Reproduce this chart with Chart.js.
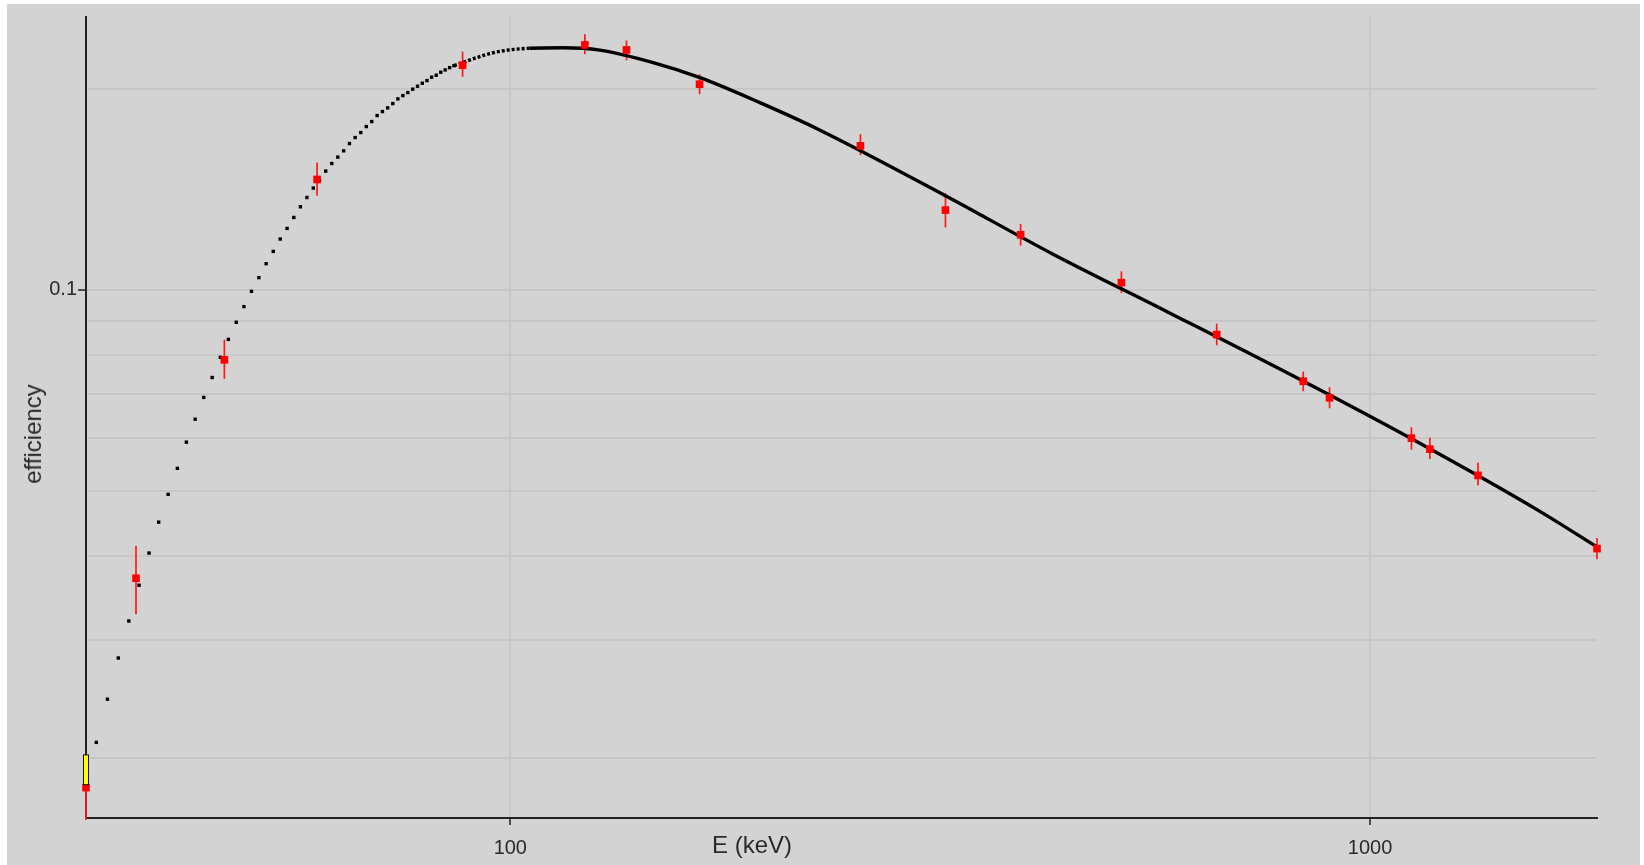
<!DOCTYPE html>
<html>
<head>
<meta charset="utf-8">
<title>efficiency</title>
<script src="https://cdn.jsdelivr.net/npm/chart.js@4.4.1/dist/chart.umd.min.js"></script>
<style>
  body { margin: 0; background: #ffffff; }
  #box { position: absolute; left: 7px; top: 4px; width: 1633px; height: 861px; background: #d3d3d3; }
  #chart { position: absolute; left: 0; top: 0; }
  .axis-title { position: absolute; font-family: "Liberation Sans", Arial, sans-serif; font-size: 24px; color: #2a2a2a; white-space: nowrap; }
  #xtitle { left: 745px; top: 841px; transform: translate(-50%, -50%); }
  #ytitle { left: 26px; top: 430px; transform: translate(-50%, -50%) rotate(-90deg); }
</style>
</head>
<body>
<div id="box">
  <canvas id="chart" width="1633" height="861"></canvas>
  <div id="xtitle" class="axis-title">E (keV)</div>
  <div id="ytitle" class="axis-title">efficiency</div>
</div>
<script>
// measured peaks (keV) and efficiencies
const energies = [32.1, 36.7, 46.5, 59.6, 88.0, 122.1, 136.5, 166.0, 255.4, 320.7, 392.2, 513.7, 663.1, 836, 897, 1117, 1173.5, 1335, 1836];
const efficiencies = [0.01804, 0.03708, 0.07862, 0.14626, 0.21669, 0.23235, 0.2284, 0.20298, 0.16418, 0.13163, 0.12093, 0.10254, 0.08576, 0.07304, 0.06899, 0.06005, 0.05782, 0.05283, 0.04107];
const errLow = [0.0159, 0.03277, 0.07364, 0.13826, 0.20815, 0.22503, 0.22044, 0.19612, 0.15904, 0.124, 0.11645, 0.09897, 0.08266, 0.07057, 0.06656, 0.0577, 0.05587, 0.05104, 0.03958];
const errHigh = [0.02019, 0.04144, 0.08428, 0.15502, 0.22706, 0.24103, 0.23587, 0.21007, 0.17092, 0.13955, 0.12546, 0.1066, 0.08906, 0.07551, 0.07155, 0.06235, 0.06011, 0.05524, 0.04259];

// fitted curve, sparse part (one dot per keV)
const fitDotE = [33, 34, 35, 36, 37, 38, 39, 40, 41, 42, 43, 44, 45, 46, 47, 48, 49, 50, 51, 52, 53, 54, 55, 56, 57, 58, 59, 60, 61, 62, 63, 64, 65, 66, 67, 68, 69, 70, 71, 72, 73, 74, 75, 76, 77, 78, 79, 80, 81, 82, 83, 84, 85, 86];
const fitDotEff = [0.02108, 0.02446, 0.02818, 0.03201, 0.0362, 0.04044, 0.04498, 0.04949, 0.05413, 0.05923, 0.0641, 0.06909, 0.07398, 0.0793, 0.08437, 0.08947, 0.09442, 0.09952, 0.10432, 0.10946, 0.11418, 0.11915, 0.12357, 0.12833, 0.13313, 0.13746, 0.14198, 0.14574, 0.15053, 0.15451, 0.15795, 0.16141, 0.16549, 0.16894, 0.17187, 0.17545, 0.1785, 0.18222, 0.18474, 0.18711, 0.1899, 0.19299, 0.19519, 0.19722, 0.19953, 0.2016, 0.20369, 0.20552, 0.20793, 0.20937, 0.21154, 0.21322, 0.21491, 0.21639];

// fitted curve, dense part
const fitLineE = [86, 95.5, 105.3, 115, 127.1, 146.6, 166.2, 195.1, 229.2, 320.7, 428.3, 580.5, 830, 1145, 1579, 1836];
const fitLineEff = [0.21639, 0.2262, 0.2297, 0.2301, 0.2282, 0.2186, 0.2076, 0.1905, 0.1733, 0.1383, 0.1130, 0.0928, 0.0734, 0.0589, 0.0466, 0.0413];

const xTicks = [100, 1000];
const yGrid = [0.02, 0.03, 0.04, 0.05, 0.06, 0.07, 0.08, 0.09, 0.1, 0.2];
const yLabelled = [0.1];

const toXY = (xs, ys) => xs.map((x, i) => ({ x: x, y: ys[i] }));

const errorBars = {
  id: "errorBars",
  beforeDatasetsDraw(chart) {
    const { ctx, scales, chartArea } = chart;
    ctx.save();
    ctx.strokeStyle = "#ff1a1a";
    ctx.lineWidth = 1.7;
    energies.forEach((e, i) => {
      const px = scales.x.getPixelForValue(e);
      const top = scales.y.getPixelForValue(errHigh[i]);
      const bot = Math.min(scales.y.getPixelForValue(errLow[i]), chartArea.bottom + 2);
      ctx.beginPath();
      ctx.moveTo(px, top);
      ctx.lineTo(px, bot);
      ctx.stroke();
    });
    ctx.restore();
  },
  afterDatasetsDraw(chart) {
    // highlight box on the first (selected) point
    const { ctx, scales } = chart;
    const px = scales.x.getPixelForValue(energies[0]);
    const top = scales.y.getPixelForValue(errHigh[0]);
    const bot = scales.y.getPixelForValue(efficiencies[0]) - 3;
    ctx.save();
    ctx.fillStyle = "#ffff00";
    ctx.strokeStyle = "#111111";
    ctx.lineWidth = 1;
    ctx.fillRect(px - 2.5, top, 5, bot - top);
    ctx.strokeRect(px - 2.5, top, 5, bot - top);
    ctx.restore();
  }
};

new Chart(document.getElementById("chart"), {
  type: "scatter",
  data: {
    datasets: [
      {
        data: toXY(energies, efficiencies),
        pointStyle: "rect",
        pointRadius: 5.4,
        pointBackgroundColor: "#ff0000",
        pointBorderWidth: 0,
        showLine: false,
        clip: false,
        order: 0
      },
      {
        data: toXY(fitLineE, fitLineEff),
        showLine: true,
        pointRadius: 0,
        borderColor: "#000000",
        borderWidth: 3.4,
        cubicInterpolationMode: "monotone",
        segment: {
          borderDash: (c) => (c.p0.parsed.x < 100 ? [3, 2] : undefined)
        },
        clip: false,
        order: 1
      },
      {
        data: toXY(fitDotE, fitDotEff),
        pointStyle: "rect",
        pointRadius: 2.4,
        pointBackgroundColor: "#000000",
        pointBorderWidth: 0,
        showLine: false,
        order: 2
      }
    ]
  },
  options: {
    responsive: false,
    animation: false,
    events: [],
    layout: { padding: { top: 12, right: 43, left: 0, bottom: 0 } },
    plugins: { legend: { display: false }, tooltip: { enabled: false } },
    scales: {
      x: {
        type: "logarithmic",
        min: energies[0],
        max: energies[energies.length - 1],
        afterFit: (s) => { s.height = 47; },
        afterBuildTicks: (s) => { s.ticks = xTicks.map((v) => ({ value: v })); },
        border: { display: true, color: "#222222", width: 2 },
        grid: { color: "#c7c7c7", lineWidth: 2, tickColor: "#222222", tickLength: 7, tickWidth: 1.5 },
        ticks: {
          autoSkip: false,
          maxRotation: 0,
          padding: 11,
          color: "#2a2a2a",
          font: { family: "Liberation Sans", size: 20 },
          callback: (v) => String(v)
        }
      },
      y: {
        type: "logarithmic",
        min: 0.01625,
        max: 0.2558,
        afterFit: (s) => { s.width = 79; },
        afterBuildTicks: (s) => { s.ticks = yGrid.map((v) => ({ value: v })); },
        border: { display: true, color: "#222222", width: 2 },
        grid: {
          color: "#c7c7c7",
          lineWidth: 2,
          tickLength: 8,
          tickWidth: 1.5,
          tickColor: (c) => (yLabelled.includes(c.tick.value) ? "#222222" : "rgba(0,0,0,0)")
        },
        ticks: {
          autoSkip: false,
          padding: 1,
          color: "#2a2a2a",
          font: { family: "Liberation Sans", size: 20 },
          callback: (v) => (yLabelled.includes(v) ? String(v) : "")
        }
      }
    }
  },
  plugins: [errorBars]
});
</script>
</body>
</html>
